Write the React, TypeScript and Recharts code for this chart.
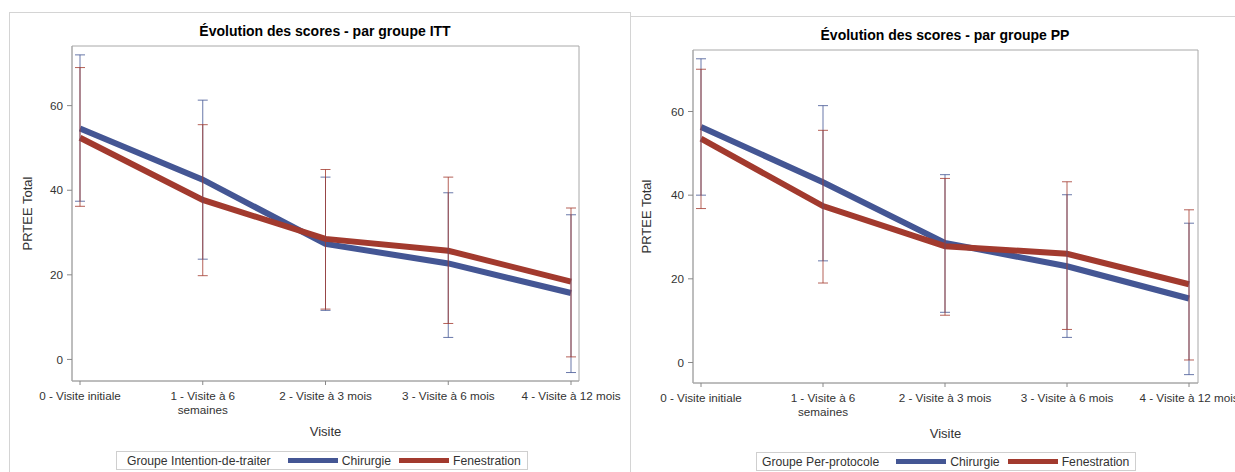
import React from "react";
import {
  CartesianGrid,
  ComposedChart,
  ErrorBar,
  Line,
  XAxis,
  YAxis,
} from "recharts";

const FONT = '"Liberation Sans", Arial, sans-serif';
const BLUE = "#445694";
const RED = "#a23a2e";
const FRAME = "#a8a8a8";

// tick labels, split where the reference wraps them
const visitLines = [
  ["0 - Visite initiale"],
  ["1 - Visite à 6", "semaines"],
  ["2 - Visite à 3 mois"],
  ["3 - Visite à 6 mois"],
  ["4 - Visite à 12 mois"],
];
const visits = visitLines.map((l) => l.join(" "));
const yTicks = [0, 20, 40, 60];

// ITT
const ittChirMean = [54.6, 42.5, 27.3, 22.7, 15.7];
const ittChirLow = [37.4, 23.7, 11.6, 5.2, -3.1];
const ittChirHigh = [72.0, 61.3, 43.1, 39.4, 34.2];
const ittFenMean = [52.4, 37.7, 28.5, 25.7, 18.4];
const ittFenLow = [36.2, 19.8, 11.9, 8.5, 0.6];
const ittFenHigh = [69.0, 55.5, 44.9, 43.1, 35.8];

// PP
const ppChirMean = [56.3, 43.1, 28.6, 23.0, 15.3];
const ppChirLow = [40.0, 24.3, 12.0, 6.0, -2.9];
const ppChirHigh = [72.6, 61.4, 44.9, 40.1, 33.3];
const ppFenMean = [53.5, 37.4, 27.8, 26.0, 18.7];
const ppFenLow = [36.8, 19.0, 11.3, 7.9, 0.6];
const ppFenHigh = [70.1, 55.5, 44.0, 43.2, 36.5];

function buildRows(
  chirMean: number[],
  chirLow: number[],
  chirHigh: number[],
  fenMean: number[],
  fenLow: number[],
  fenHigh: number[]
) {
  return visits.map((visit, i) => ({
    visit,
    chir: chirMean[i],
    fen: fenMean[i],
    chirErr: [chirMean[i] - chirLow[i], chirHigh[i] - chirMean[i]],
    fenErr: [fenMean[i] - fenLow[i], fenHigh[i] - fenMean[i]],
  }));
}

function VisitTick({ x, y, payload }: any) {
  const idx = visits.indexOf(payload.value);
  const lines = idx >= 0 ? visitLines[idx] : [String(payload.value)];
  return (
    <text x={x} y={y} textAnchor="middle" fill="#333" style={{ fontSize: 11.7, fontFamily: FONT }}>
      {lines.map((line, i) => (
        <tspan key={i} x={x} dy={i === 0 ? 9 : 13.5}>
          {line}
        </tspan>
      ))}
    </text>
  );
}

function LegendBox({ group, left, top, padLeft }: { group: string; left: number; top: number; padLeft: number }) {
  const seg = (color: string) => (
    <span style={{ display: "inline-block", width: 50, height: 5, background: color, marginRight: 4 }} />
  );
  return (
    <div
      style={{
        position: "absolute",
        left,
        top,
        height: 17,
        border: "1px solid #cfcfcf",
        display: "flex",
        alignItems: "center",
        paddingLeft: padLeft,
        paddingRight: 6,
        fontFamily: FONT,
        fontSize: 12.2,
        color: "#333",
        whiteSpace: "nowrap",
      }}
    >
      <span style={{ marginRight: 17 }}>{group}</span>
      {seg(BLUE)}
      <span style={{ marginRight: 8 }}>Chirurgie</span>
      {seg(RED)}
      <span>Fenestration</span>
    </div>
  );
}

function Panel({
  rows,
  left,
  width,
  margin,
  domain,
  padding,
  labelDx,
}: {
  rows: ReturnType<typeof buildRows>;
  left: number;
  width: number;
  margin: { top: number; right: number; bottom: number; left: number };
  domain: [number, number];
  padding: { left: number; right: number };
  labelDx: number;
}) {
  return (
    <div style={{ position: "absolute", left, top: 0 }}>
      <ComposedChart width={width} height={472} data={rows} margin={margin}>
        <CartesianGrid
          stroke={FRAME}
          fill="none"
          horizontalCoordinatesGenerator={({ offset, height }: any) => [offset.top, height - offset.bottom]}
          verticalCoordinatesGenerator={({ offset, width: w }: any) => [offset.left, w - offset.right]}
        />
        <XAxis
          dataKey="visit"
          type="category"
          padding={padding}
          height={60}
          tickSize={4}
          tickMargin={6}
          axisLine={{ stroke: FRAME }}
          tickLine={{ stroke: "#888" }}
          tick={<VisitTick />}
          interval={0}
          label={{
            value: "Visite",
            position: "insideBottom",
            offset: 5,
            style: { fontSize: 13, fontFamily: FONT, fill: "#333" },
          }}
        />
        <YAxis
          width={40}
          type="number"
          domain={domain}
          ticks={yTicks}
          allowDataOverflow
          tickSize={5}
          tickMargin={4}
          axisLine={{ stroke: FRAME }}
          tickLine={{ stroke: "#888" }}
          tick={{ fontSize: 11.7, fontFamily: FONT, fill: "#333" }}
          label={{
            value: "PRTEE Total",
            angle: -90,
            position: "center",
            dx: labelDx,
            style: { fontSize: 13, fontFamily: FONT, fill: "#333", textAnchor: "middle" },
          }}
        />
        <Line
          dataKey="chir"
          type="linear"
          stroke={BLUE}
          strokeWidth={6}
          dot={false}
          activeDot={false}
          isAnimationActive={false}
        />
        <Line
          dataKey="fen"
          type="linear"
          stroke={RED}
          strokeWidth={6}
          dot={false}
          activeDot={false}
          isAnimationActive={false}
        />
        <Line dataKey="chir" stroke="none" dot={false} activeDot={false} legendType="none" isAnimationActive={false}>
          <ErrorBar dataKey="chirErr" width={5} stroke={BLUE} strokeOpacity={0.8} strokeWidth={1} direction="y" />
        </Line>
        <Line dataKey="fen" stroke="none" dot={false} activeDot={false} legendType="none" isAnimationActive={false}>
          <ErrorBar dataKey="fenErr" width={5} stroke={RED} strokeOpacity={0.8} strokeWidth={1} direction="y" />
        </Line>
      </ComposedChart>
    </div>
  );
}

const titleStyle: React.CSSProperties = {
  position: "absolute",
  fontFamily: FONT,
  fontWeight: "bold",
  fontSize: 14,
  lineHeight: "14px",
  color: "#000",
  textAlign: "center",
  width: 400,
  whiteSpace: "nowrap",
};

export default function App() {
  const ittRows = buildRows(ittChirMean, ittChirLow, ittChirHigh, ittFenMean, ittFenLow, ittFenHigh);
  const ppRows = buildRows(ppChirMean, ppChirLow, ppChirHigh, ppFenMean, ppFenLow, ppFenHigh);

  return (
    <div
      style={{
        position: "absolute",
        left: 0,
        top: 0,
        width: 1235,
        height: 472,
        overflow: "hidden",
        background: "#fff",
      }}
    >
      <div style={{ position: "absolute", left: 9, top: 12, width: 620, height: 480, border: "1px solid #d4d4d4" }} />
      <div style={{ position: "absolute", left: 630, top: 16, width: 640, height: 480, border: "1px solid #d4d4d4" }} />

      <Panel
        rows={ittRows}
        left={0}
        width={640}
        margin={{ top: 46, right: 61, bottom: 31, left: 32 }}
        domain={[-5.1, 74.1]}
        padding={{ left: 8, right: 8 }}
        labelDx={-24.5}
      />
      <Panel
        rows={ppRows}
        left={631}
        width={620}
        margin={{ top: 50, right: 53, bottom: 29, left: 22 }}
        domain={[-4.9, 74.7]}
        padding={{ left: 8, right: 9 }}
        labelDx={-26.3}
      />

      <div style={{ ...titleStyle, left: 325 - 200, top: 24 }}>Évolution des scores - par groupe ITT</div>
      <div style={{ ...titleStyle, left: 945 - 200, top: 28 }}>Évolution des scores - par groupe PP</div>

      <LegendBox group="Groupe Intention-de-traiter" left={116} top={451} padLeft={10} />
      <LegendBox group="Groupe Per-protocole" left={756} top={452} padLeft={5} />
    </div>
  );
}
